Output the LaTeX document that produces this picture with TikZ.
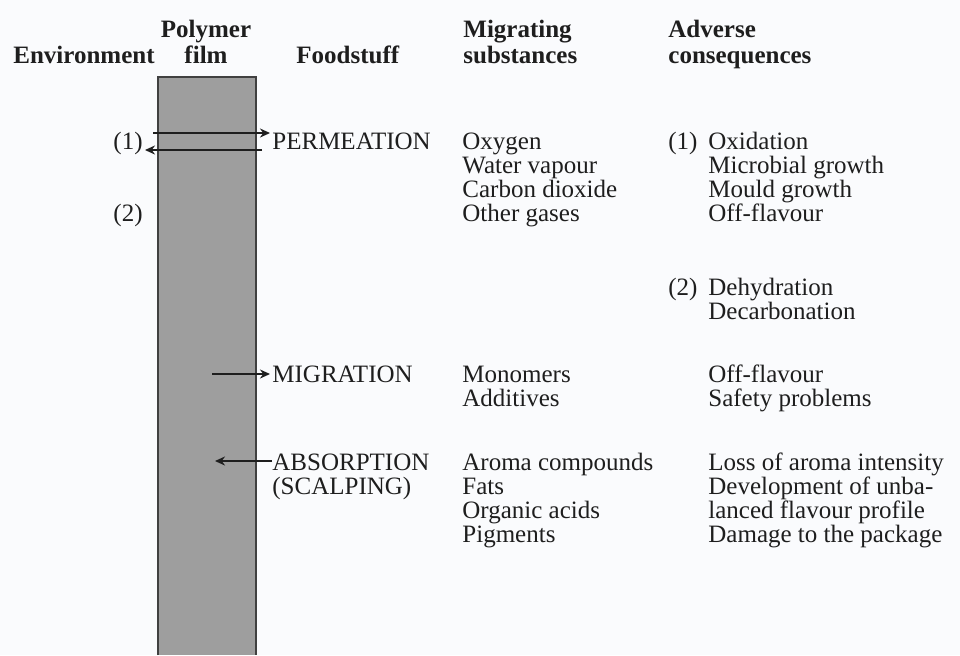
\documentclass[tikz,border=0pt]{standalone}
\usepackage{fontspec}
\setmainfont{Liberation Serif}
\usetikzlibrary{positioning,arrows.meta}
\definecolor{ink}{HTML}{1E1E1E}
\definecolor{filmgray}{HTML}{9E9E9E}
\definecolor{paper}{HTML}{FAFBFD}
\tikzset{
  hd/.style ={inner sep=0pt, text=ink, font=\fontsize{12.5}{13}\selectfont\bfseries, align=left},
  txt/.style={inner sep=0pt, text=ink, font=\fontsize{12.5}{12}\selectfont, align=left},
  arr/.style={-{Stealth[length=5pt,width=4.5pt]}, line width=1pt, draw=ink, shorten >=1pt},
}
\begin{document}
\begin{tikzpicture}[x=0.5pt,y=-0.5pt]
  \fill[paper] (0,0) rectangle (960,655);
  \useasboundingbox (0,0) rectangle (960,655);
  % film
  \fill[filmgray] (158,77) rectangle (256,655);
  \draw[ink!85, line width=0.8pt] (158,655) -- (158,77) -- (256,77) -- (256,655);
  % headers (base = last line)
  \node[hd, anchor=base west] (env)  at (13,63)  {Environment};
  \node[hd, anchor=base, align=center] (poly) at (206,63) {Polymer\\film};
  \node[hd, anchor=base west] (food) at (296,63) {Foodstuff};
  \node[hd, anchor=base west] (mig)  at (463,63) {Migrating\\substances};
  \node[hd, anchor=base west] (adv)  at (668,63) {Adverse\\consequences};
  % permeation
  \node[txt, anchor=base west] (perm) at (272,149) {PERMEATION};
  \node[txt, anchor=base east] (one)  at (143,149) {(1)};
  \node[txt, anchor=base east] (two)  at (143,221) {(2)};
  \node[txt, anchor=base west] (gas)  at (462,221) {Oxygen\\Water vapour\\Carbon dioxide\\Other gases};
  \node[txt, anchor=base west] (c1)   at (668,149) {(1)};
  \node[txt, anchor=base west] (ox)   at (708,221) {Oxidation\\Microbial growth\\Mould growth\\Off-flavour};
  \node[txt, anchor=base west] (c2)   at (668,295) {(2)};
  \node[txt, anchor=base west] (dehy) at (708,319) {Dehydration\\Decarbonation};
  % migration
  \node[txt, anchor=base west] (migr) at (272,382) {MIGRATION};
  \node[txt, anchor=base west] (mono) at (462,406) {Monomers\\Additives};
  \node[txt, anchor=base west] (offl) at (708,406) {Off-flavour\\Safety problems};
  % absorption
  \node[txt, anchor=base west] (abs)  at (272,494) {ABSORPTION\\(SCALPING)};
  \node[txt, anchor=base west] (arom) at (462,542) {Aroma compounds\\Fats\\Organic acids\\Pigments};
  \node[txt, anchor=base west] (loss) at (708,542) {Loss of aroma intensity\\Development of unba-\\lanced flavour profile\\Damage to the package};
  % arrows
  \coordinate (pa) at (153,133);
  \coordinate (pb) at (262,150);
  \coordinate (ma) at (212,374);
  \coordinate (ab) at (213,461);
  \draw[arr] (pa) -- (pa -| perm.west);
  \draw[arr] (pb) -- (pb -| one.east);
  \draw[arr] (ma) -- (ma -| migr.west);
  \draw[arr] (ab -| abs.west) -- (ab);
\end{tikzpicture}
\end{document}
